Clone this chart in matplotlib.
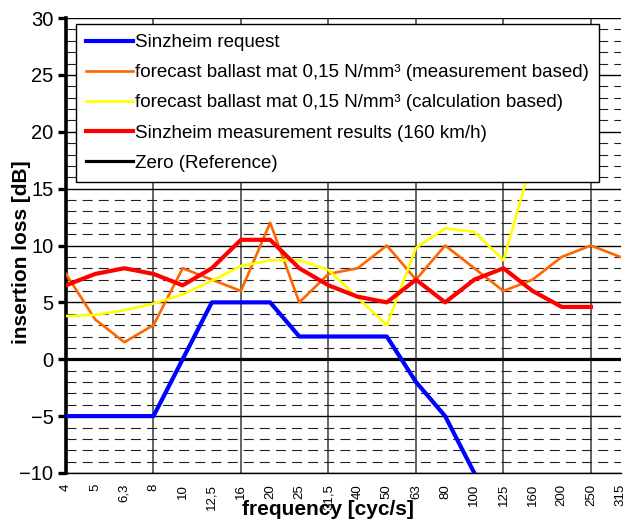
import numpy as np
import matplotlib
matplotlib.use('Agg')
import matplotlib.pyplot as plt
from matplotlib.ticker import MultipleLocator
from matplotlib.legend_handler import HandlerLine2D

plt.rcParams['font.family'] = ['Liberation Sans', 'DejaVu Sans']

# frequency bands (cyc/s)
freq_labels = ['4', '5', '6,3', '8', '10', '12,5', '16', '20', '25', '31,5',
               '40', '50', '63', '80', '100', '125', '160', '200', '250', '315']

nan = np.nan
request = [-5, -5, -5, -5, 0, 5, 5, 5, 2, 2,
           2, 2, -2, -5, -10, nan, nan, nan, nan, nan]
fc_meas = [7.5, 3.5, 1.5, 3, 8, 7, 6, 12, 5, 7.5,
           8, 10, 7, 10, 8, 6, 7, 9, 10, 9]
fc_calc = [3.8, 3.9, 4.3, 4.9, 5.7, 6.9, 8.2, 8.7, 8.7, 7.85,
           5.4, 3, 9.8, 11.5, 11.2, 8.7, 17.7, 22, 25, nan]
meas = [6.5, 7.5, 8, 7.5, 6.5, 8, 10.5, 10.5, 8, 6.5,
        5.5, 5, 7, 5, 7, 8, 6, 4.6, 4.6, nan]
zero = [0] * len(freq_labels)

x = np.arange(len(freq_labels))


class ShortLine(HandlerLine2D):
    # legend line starts a bit further in from the frame, like Excel does
    def create_artists(self, legend, orig_handle, xdescent, ydescent,
                       width, height, fontsize, trans):
        arts = super().create_artists(legend, orig_handle, xdescent, ydescent,
                                      width, height, fontsize, trans)
        for a in arts:
            xd = a.get_xdata()
            if len(xd) == 2:
                a.set_xdata([xd[0] + 0.25 * fontsize, xd[1]])
        return arts


fig = plt.figure(figsize=(6.26, 5.19), dpi=100)
ax = fig.add_axes([66 / 626, 1 - 473 / 519, 555 / 626, 455 / 519])

# grid
ax.set_ylim(-10, 30)
ax.set_xlim(0, 19.03)
ax.yaxis.set_major_locator(MultipleLocator(5))
ax.yaxis.set_minor_locator(MultipleLocator(1))
ax.grid(axis='y', which='major', color='black', lw=1.0, ls='-', zorder=0)
ax.grid(axis='y', which='minor', color='#222222', lw=0.8, ls=(0, (9, 5.5)), zorder=0)
for i in range(3, 19, 3):
    ax.axvline(i, color='#3a3a3a', lw=1.1, zorder=0.5)

ax.plot(x, zero, color='black', lw=2.3, label='Zero (Reference)', zorder=2)
ax.plot(x, fc_meas, color='#FF6600', lw=1.9, zorder=3,
        label='forecast ballast mat 0,15 N/mm³ (measurement based)')
ax.plot(x, fc_calc, color='#FFFF00', lw=1.9, zorder=3,
        label='forecast ballast mat 0,15 N/mm³ (calculation based)')
ax.plot(x, meas, color='#FF0000', lw=3.0, zorder=4,
        label='Sinzheim measurement results (160 km/h)')
ax.plot(x, request, color='#0000FF', lw=3.0, zorder=4, label='Sinzheim request')

# legend in original order
h, l = ax.get_legend_handles_labels()
order = [4, 1, 2, 3, 0]
leg = ax.legend([h[i] for i in order], [l[i] for i in order],
                loc='upper left', bbox_to_anchor=(0.018, 0.987),
                borderaxespad=0, fontsize=13.5, handlelength=2.5,
                handletextpad=0.1, labelspacing=0.69, borderpad=0.55,
                fancybox=False, framealpha=1, edgecolor='black',
                handler_map={matplotlib.lines.Line2D: ShortLine()})
leg.get_frame().set_linewidth(1.0)
leg.set_zorder(10)

ax.spines['top'].set_visible(False)
ax.spines['right'].set_visible(False)
ax.spines['left'].set_linewidth(2.6)
ax.spines['bottom'].set_linewidth(1.0)

ax.set_xticks(x)
ax.set_xticklabels(freq_labels, rotation=90, fontsize=9.5)
ax.tick_params(axis='x', length=0, pad=8)
ax.tick_params(axis='y', which='major', length=6, width=2.4, labelsize=14.5, pad=3)
ax.tick_params(axis='y', which='minor', length=0)

fig.text(22 / 626, 1 - 252 / 519, 'insertion loss [dB]', rotation=90,
         ha='center', va='center', fontsize=15, fontweight='bold')
fig.text(328 / 626, 1 - 515 / 519, 'frequency [cyc/s]',
         ha='center', va='baseline', fontsize=15, fontweight='bold')

fig.savefig('out.png', dpi=100)
